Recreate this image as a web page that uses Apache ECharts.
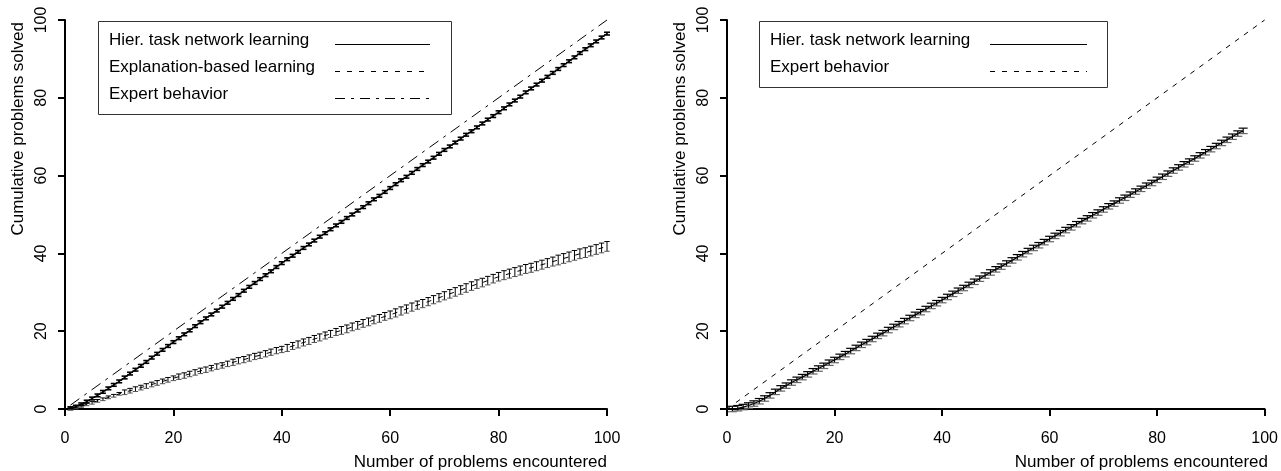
<!DOCTYPE html>
<html><head><meta charset="utf-8">
<script src="https://cdn.jsdelivr.net/npm/echarts@6/dist/echarts.min.js"></script>
<style>html,body{margin:0;padding:0;background:#fff}#c{width:1281px;height:471px}</style>
</head><body><div id="c"></div>
<script>
// ---- data ----
const xTicks = [0, 20, 40, 60, 80, 100];
const legendLeft = ['Hier. task network learning', 'Explanation-based learning', 'Expert behavior'];
const legendRight = ['Hier. task network learning', 'Expert behavior'];
const xTitle = 'Number of problems encountered';
const yTitle = 'Cumulative problems solved';

// left panel: problems 1..100
const htnLeft = [0.2,0.6,1.2,1.9,2.7,3.5,4.4,5.3,6.2,7.1,
  8.1,9.1,10.1,11.1,12.1,13.2,14.2,15.2,16.2,17.2,
  18.2,19.2,20.2,21.3,22.3,23.3,24.3,25.3,26.3,27.3,
  28.3,29.3,30.4,31.4,32.4,33.4,34.4,35.4,36.5,37.5,
  38.5,39.4,40.4,41.4,42.3,43.3,44.3,45.2,46.2,47.2,
  48.1,49.1,50.0,51.0,51.9,52.9,53.9,54.8,55.8,56.8,
  57.8,58.8,59.7,60.7,61.7,62.7,63.6,64.6,65.6,66.6,
  67.5,68.5,69.5,70.5,71.4,72.4,73.4,74.4,75.3,76.3,
  77.3,78.3,79.3,80.3,81.4,82.4,83.4,84.4,85.4,86.4,
  87.4,88.4,89.4,90.4,91.5,92.5,93.5,94.5,95.5,96.5];
const htnLeftErr = 0.35;
const eblLeft = [0.1,0.4,0.8,1.2,1.6,2.1,2.5,3.0,3.4,3.9,
  4.3,4.7,5.1,5.5,5.9,6.3,6.7,7.1,7.5,7.9,
  8.3,8.6,9.0,9.4,9.8,10.1,10.5,10.9,11.2,11.6,
  12.0,12.4,12.7,13.1,13.5,13.8,14.2,14.6,15.0,15.3,
  15.7,16.2,16.6,17.1,17.5,18.0,18.4,18.9,19.3,19.8,
  20.2,20.6,21.1,21.5,22.0,22.4,22.9,23.3,23.8,24.2,
  24.7,25.2,25.7,26.2,26.7,27.1,27.6,28.1,28.6,29.1,
  29.6,30.1,30.6,31.1,31.6,32.1,32.5,33.0,33.5,34.0,
  34.4,34.8,35.2,35.6,36.0,36.3,36.7,37.1,37.5,37.9,
  38.3,38.7,39.1,39.5,39.9,40.2,40.6,41.0,41.4,41.8];
const eblErrByDecade = [0.35,0.6,0.7,0.8,0.9,1.0,1.05,1.1,1.15,1.25];
const expertLeft = [[1, 1], [100, 100]];

// right panel: problems 1..96
const htnRight = [0.0,0.2,0.5,0.9,1.4,2.0,2.7,3.5,4.4,5.3,
  6.0,6.8,7.5,8.2,8.9,9.7,10.4,11.1,11.9,12.6,
  13.4,14.1,14.9,15.7,16.5,17.2,18.0,18.8,19.5,20.3,
  21.1,21.8,22.6,23.4,24.2,24.9,25.7,26.5,27.2,28.0,
  28.8,29.6,30.4,31.1,31.9,32.7,33.5,34.3,35.1,35.9,
  36.6,37.4,38.2,39.0,39.8,40.6,41.4,42.1,42.9,43.7,
  44.5,45.2,46.0,46.7,47.5,48.3,49.0,49.8,50.5,51.3,
  52.1,52.8,53.6,54.3,55.1,55.9,56.6,57.4,58.1,58.9,
  59.7,60.5,61.3,62.1,62.9,63.6,64.4,65.2,66.0,66.8,
  67.6,68.4,69.2,70.0,70.8,71.5];
const htnRightErr = 0.7;
const expertRight = [[0, 0], [100, 100]];

// ---- helpers ----
const FONT = '"Liberation Sans", Arial, Helvetica, sans-serif';
const DASH_EBL = [5, 7];
const DASH_EXPERT_L = [11, 6, 3, 6];
const DASH_EXPERT_R = [5, 6];

function toXY(arr){ return arr.map((v, i) => [i + 1, v]); }

function xAxisCfg(gi){
  return {type:'value', gridIndex:gi, min:0, max:100, interval:20,
    axisLine:{show:true, onZero:false, lineStyle:{color:'#000', width:2}},
    axisTick:{show:true, length:7, lineStyle:{color:'#000', width:2}},
    axisLabel:{color:'#000', fontSize:16, fontFamily:FONT, margin:22,
      customValues: xTicks, showMinLabel:true, showMaxLabel:true},
    splitLine:{show:false}};
}
function yAxisCfg(gi){
  return {type:'value', gridIndex:gi, min:0, max:100, interval:20,
    axisLine:{show:true, onZero:false, lineStyle:{color:'#000', width:2}},
    axisTick:{show:true, length:7, lineStyle:{color:'#000', width:2}},
    axisLabel:{color:'#000', fontSize:16, fontFamily:FONT, margin:15, rotate:90,
      showMinLabel:true, showMaxLabel:true},
    splitLine:{show:false}};
}
function lineSeries(name, gi, data, dash, width){
  return {type:'line', name, xAxisIndex:gi, yAxisIndex:gi, data, symbol:'none',
    silent:true, animation:false, clip:false,
    lineStyle:{color:'#000', width:width || 1, type:dash || 'solid'}};
}
function errSeries(name, gi, means, errFn, capHalf, color, lw, lowColor){
  const data = means.map((m, i) => [i + 1, m - errFn(i), m + errFn(i)]);
  return {type:'custom', name, xAxisIndex:gi, yAxisIndex:gi, data, silent:true,
    animation:false, clip:false, encode:{x:0, y:[1, 2]},
    renderItem(params, api){
      const x = api.value(0), lo = api.value(1), hi = api.value(2);
      const a = api.coord([x, lo]), b = api.coord([x, hi]);
      const st = {stroke:color, lineWidth:lw};
      const st2 = {stroke:lowColor || color, lineWidth:lw};
      return {type:'group', children:[
        {type:'line', shape:{x1:a[0], y1:a[1], x2:b[0], y2:b[1]}, style:st},
        {type:'line', shape:{x1:b[0]-capHalf, y1:b[1], x2:b[0]+capHalf, y2:b[1]}, style:st},
        {type:'line', shape:{x1:a[0]-capHalf, y1:a[1], x2:a[0]+capHalf, y2:a[1]}, style:st2}
      ]};
    }};
}
function legendGraphics(x0, y0, w, h, textX, lineX1, lineX2, labels, dashes){
  const els = [{type:'rect', shape:{x:x0 + 0.5, y:y0 + 0.5, width:w, height:h},
    style:{fill:'#fff', stroke:'#333', lineWidth:1}, z:50}];
  labels.forEach((t, i) => {
    const cy = y0 + 19 + i * 27;
    els.push({type:'text', x:textX, y:cy, z:51,
      style:{text:t, fill:'#000', font:'17px ' + FONT, textVerticalAlign:'middle'}});
    const ly = Math.round(cy + 4) + 0.5;
    els.push({type:'line', z:51, shape:{x1:lineX1, y1:ly, x2:lineX2, y2:ly},
      style:{stroke:'#000', lineWidth:1, lineDash:dashes[i]}});
  });
  return els;
}

const chart = echarts.init(document.getElementById('c'), null, {renderer:'canvas'});
chart.setOption({
  animation:false,
  backgroundColor:'#fff',
  grid:[{left:65, right:674, top:20, bottom:62},
        {left:727, right:13, top:20, bottom:62}],
  xAxis:[xAxisCfg(0), xAxisCfg(1)],
  yAxis:[yAxisCfg(0), yAxisCfg(1)],
  series:[
    lineSeries(legendLeft[2], 0, expertLeft, DASH_EXPERT_L),
    lineSeries(legendLeft[0], 0, toXY(htnLeft), null, 1.2),
    errSeries('htnLeftErr', 0, htnLeft, () => htnLeftErr, 3, '#000', 1.6),
    lineSeries(legendLeft[1], 0, toXY(eblLeft), DASH_EBL),
    errSeries('eblLeftErr', 0, eblLeft, i => eblErrByDecade[Math.floor(i / 10)], 2.7, '#000', 1, '#555'),
    lineSeries(legendRight[1], 1, expertRight, DASH_EXPERT_R),
    lineSeries(legendRight[0], 1, toXY(htnRight), null, 1.2),
    errSeries('htnRightErr', 1, htnRight, () => htnRightErr, 4.5, '#000', 1.2, '#666')
  ],
  graphic:[
    ...legendGraphics(98, 21, 353, 93, 109, 335, 430, legendLeft, [null, DASH_EBL, [10, 6, 3, 6]]),
    ...legendGraphics(759, 21, 348, 66, 770, 990, 1087, legendRight, [null, DASH_EBL]),
    {type:'text', x:607, y:462, style:{text:xTitle, fill:'#000', font:'17px ' + FONT,
      textAlign:'right', textVerticalAlign:'middle'}},
    {type:'text', x:1268, y:462, style:{text:xTitle, fill:'#000', font:'17px ' + FONT,
      textAlign:'right', textVerticalAlign:'middle'}},
    {type:'text', x:18, y:22, rotation:Math.PI / 2, style:{text:yTitle, fill:'#000',
      font:'17px ' + FONT, textAlign:'right', textVerticalAlign:'middle'}},
    {type:'text', x:680, y:22, rotation:Math.PI / 2, style:{text:yTitle, fill:'#000',
      font:'17px ' + FONT, textAlign:'right', textVerticalAlign:'middle'}}
  ]
});
</script>
</body></html>
